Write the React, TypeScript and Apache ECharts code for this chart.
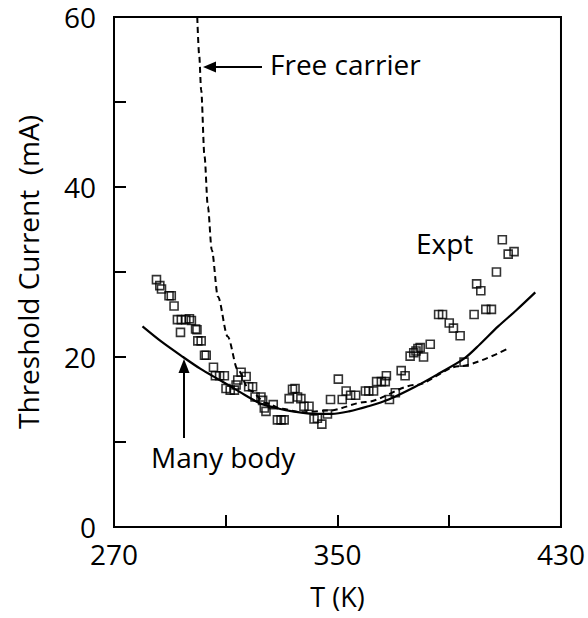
import React, { useEffect, useRef } from "react";
import * as echarts from "echarts";

const exptT = [285.2, 286.4, 287.0, 289.7, 290.5, 291.5, 292.7, 294.1, 295.7, 297.0, 297.7, 293.8, 299.2, 299.7, 300.0, 301.2, 302.4, 303.0, 305.6, 306.3, 307.8, 309.5, 310.1, 311.6, 313.1, 313.7, 314.3, 315.5, 317.3, 318.2, 319.6, 320.5, 322.6, 323.2, 323.8, 324.4, 327.0, 328.5, 329.8, 330.9, 332.7, 333.9, 334.8, 335.7, 336.9, 338.0, 339.8, 341.6, 342.8, 344.4, 346.4, 347.5, 350.3, 351.7, 353.1, 354.7, 356.5, 360.0, 361.2, 362.9, 364.0, 365.7, 367.1, 367.5, 368.6, 370.7, 372.8, 374.2, 376.0, 377.3, 378.1, 378.8, 379.6, 380.8, 383.2, 386.2, 387.6, 390.0, 391.5, 393.9, 395.3, 398.9, 399.8, 401.3, 403.1, 405.1, 406.9, 409.0, 411.1, 413.2];
const exptI = [29.1, 28.4, 28.0, 27.2, 27.2, 26.0, 24.4, 24.4, 24.4, 24.5, 24.3, 22.9, 23.3, 23.2, 21.9, 21.9, 20.2, 20.2, 18.8, 17.8, 17.8, 17.8, 16.3, 16.1, 16.1, 16.7, 17.3, 18.2, 17.7, 16.5, 16.5, 15.3, 15.3, 14.9, 14.0, 13.6, 14.4, 12.6, 12.6, 12.6, 15.1, 16.2, 16.3, 15.3, 15.1, 14.2, 14.2, 12.7, 12.8, 12.1, 13.3, 15.0, 17.4, 15.0, 16.0, 15.5, 15.5, 16.0, 16.0, 16.0, 17.1, 17.1, 17.1, 17.8, 15.0, 15.8, 18.4, 17.8, 20.1, 20.5, 20.7, 21.0, 21.1, 20.0, 21.5, 25.0, 25.0, 24.0, 23.4, 22.5, 19.4, 25.0, 28.6, 27.8, 25.6, 25.6, 30.0, 33.8, 32.1, 32.4];

const manyBodyT = [280.2, 287, 294.7, 301, 307.8, 315, 322, 328, 333.9, 342.2, 348, 354.1, 361, 368.3, 377.8, 386, 395.3, 401, 407.5, 414, 420.8];
const manyBodyI = [23.6, 21.8, 20.0, 18.6, 17.3, 15.9, 14.6, 14.0, 13.6, 13.3, 13.3, 13.6, 14.2, 15.0, 16.5, 18.0, 19.8, 21.5, 23.6, 25.5, 27.6];

const freeT = [299.8, 300.5, 301.2, 302.4, 303.6, 305.0, 307.2, 310.7, 314.3, 318.5, 324.4, 330, 337, 347, 360, 377.8, 393.3, 410.5];
const freeI = [60, 55.5, 51.4, 43.6, 37.7, 32.6, 27.1, 22.4, 18.5, 16.1, 14.6, 13.9, 13.5, 13.7, 14.7, 16.7, 18.9, 20.9];

const FONT = "'Open Sans', sans-serif";

export default function App() {
  const ref = useRef<HTMLDivElement>(null);
  useEffect(() => {
    if (!ref.current) return;
    const chart = echarts.init(ref.current, undefined, { renderer: "svg" });
    const zip = (a: number[], b: number[]) => a.map((v, i) => [v, b[i]]);
    chart.setOption({
      animation: false,
      backgroundColor: "#fff",
      textStyle: { fontFamily: FONT, color: "#000" },
      grid: { left: 114, right: 25, top: 17, bottom: 91, show: true, borderColor: "#000", borderWidth: 2 },
      xAxis: {
        type: "value",
        min: 270,
        max: 430,
        interval: 40,
        name: "T (K)",
        nameLocation: "middle",
        nameGap: 56,
        nameTextStyle: { fontSize: 27, color: "#000", fontFamily: FONT },
        axisLine: { show: true, lineStyle: { color: "#000", width: 2 } },
        axisTick: { show: true, inside: true, length: 12, lineStyle: { color: "#000", width: 2 } },
        axisLabel: {
          margin: 14,
          fontSize: 28,
          lineHeight: 26,
          color: "#000",
          fontFamily: FONT,
          formatter: (v: number) => ((v - 270) % 80 === 0 ? String(v) : ""),
        },
        splitLine: { show: false },
      },
      yAxis: {
        type: "value",
        min: 0,
        max: 60,
        interval: 10,
        name: "Threshold Current  (mA)",
        nameLocation: "middle",
        nameGap: 72,
        nameTextStyle: { fontSize: 28, color: "#000", fontFamily: FONT },
        axisLine: { show: true, lineStyle: { color: "#000", width: 2 } },
        axisTick: { show: true, inside: true, length: 12, lineStyle: { color: "#000", width: 2 } },
        axisLabel: {
          margin: 18,
          fontSize: 28,
          lineHeight: 20,
          color: "#000",
          fontFamily: FONT,
          formatter: (v: number) => (v % 20 === 0 ? String(v) : ""),
        },
        splitLine: { show: false },
      },
      series: [
        {
          name: "Free carrier",
          type: "line",
          data: zip(freeT, freeI),
          showSymbol: false,
          smooth: 0.3,
          smoothMonotone: "x",
          lineStyle: { color: "#000", width: 2, type: [6, 4] },
          z: 2,
        },
        {
          name: "Many body",
          type: "line",
          data: zip(manyBodyT, manyBodyI),
          showSymbol: false,
          smooth: 0.3,
          lineStyle: { color: "#000", width: 2.2 },
          z: 3,
        },
        {
          name: "Expt",
          type: "scatter",
          data: zip(exptT, exptI),
          symbol: "rect",
          symbolSize: 8,
          itemStyle: { color: "rgba(255,255,255,0)", borderColor: "#000", borderWidth: 1.6 },
          z: 4,
        },
      ],
      graphic: [
        { type: "text", left: 270, top: 50, style: { text: "Free carrier", font: `28px ${FONT}`, fill: "#000" } },
        { type: "line", shape: { x1: 262, y1: 67, x2: 212, y2: 67 }, style: { stroke: "#000", lineWidth: 2 } },
        { type: "polygon", shape: { points: [[203, 67], [216, 61.5], [216, 72.5]] }, style: { fill: "#000" } },
        { type: "text", left: 416, top: 229, style: { text: "Expt", font: `28px ${FONT}`, fill: "#000" } },
        { type: "text", left: 151, top: 443, style: { text: "Many body", font: `28px ${FONT}`, fill: "#000" } },
        { type: "line", shape: { x1: 184, y1: 438, x2: 184, y2: 368 }, style: { stroke: "#000", lineWidth: 2 } },
        { type: "polygon", shape: { points: [[184, 359], [178.5, 373], [189.5, 373]] }, style: { fill: "#000" } },
      ],
    });
    return () => chart.dispose();
  }, []);
  return <div ref={ref} style={{ width: 588, height: 618, position: "absolute", left: 0, top: 0 }} />;
}
